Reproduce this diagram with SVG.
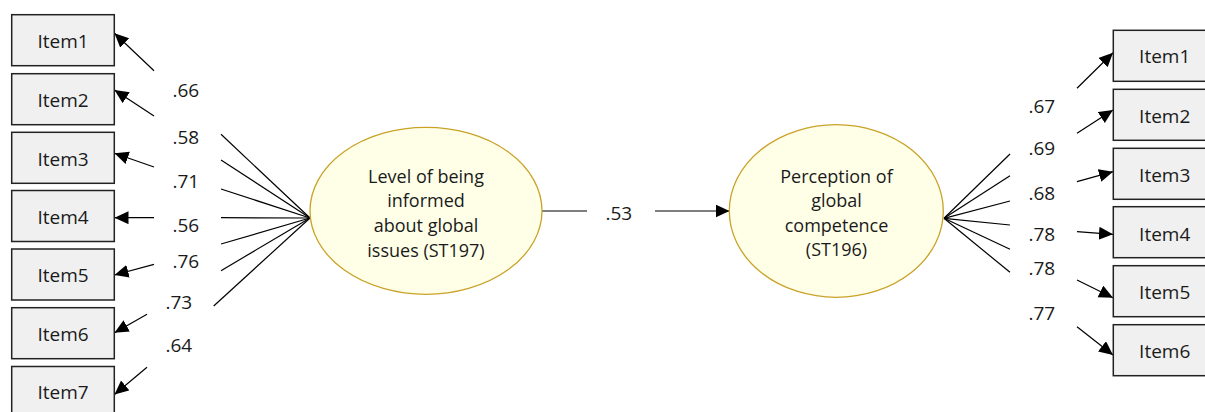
<svg xmlns="http://www.w3.org/2000/svg" width="1205" height="412" viewBox="0 0 1205 412">
<style>
  .box { fill: #F0F0F0; stroke: #222; stroke-width: 1.5; }
  .lat { fill: #FFFFE8; stroke: #C9A227; stroke-width: 1.3; }
  .t { font-family: "Open Sans", "Noto Sans", sans-serif; fill: #1a1a1a; }
  .it { font-size: 19px; text-anchor: middle; }
  .el { font-size: 18px; text-anchor: middle; }
  .lb { font-size: 19px; }
  .ln { stroke: #000; stroke-width: 1.2; fill: none; }
  .ar { stroke: #000; stroke-width: 1.2; fill: none; marker-end: url(#ah); }
</style>
<defs>
  <marker id="ah" markerUnits="userSpaceOnUse" markerWidth="16" markerHeight="14" refX="14" refY="6.5" orient="auto">
    <path d="M0,0 L14,6.5 L0,13 z" fill="#000"/>
  </marker>
</defs>
<rect width="1205" height="412" fill="#fff"/>

<g id="connectors">
  <!-- left fan -->
  <line class="ln" x1="310" y1="218" x2="221" y2="134.3"/>
  <line class="ln" x1="310" y1="218" x2="221" y2="160"/>
  <line class="ln" x1="310" y1="218" x2="221" y2="189"/>
  <line class="ln" x1="310" y1="218" x2="221" y2="217.7"/>
  <line class="ln" x1="310" y1="218" x2="221" y2="244"/>
  <line class="ln" x1="310" y1="218" x2="221" y2="270.7"/>
  <line class="ln" x1="310" y1="218" x2="213.7" y2="306"/>
  <!-- left arrows -->
  <line class="ar" x1="154" y1="70.7" x2="114.5" y2="33.3"/>
  <line class="ar" x1="154" y1="116" x2="114.5" y2="90"/>
  <line class="ar" x1="154" y1="167" x2="114.5" y2="153.3"/>
  <line class="ar" x1="154" y1="217.7" x2="114.5" y2="217.7"/>
  <line class="ar" x1="154" y1="264.3" x2="114.5" y2="275"/>
  <line class="ar" x1="147" y1="314.3" x2="114.5" y2="332.7"/>
  <line class="ar" x1="147" y1="367.3" x2="114.5" y2="394.5"/>
  <!-- structural -->
  <line class="ln" x1="542" y1="211" x2="587" y2="211"/>
  <line class="ar" x1="655" y1="211" x2="729.5" y2="211"/>
  <!-- right fan -->
  <line class="ln" x1="944" y1="218.3" x2="1010" y2="154"/>
  <line class="ln" x1="944" y1="218.3" x2="1010" y2="175.7"/>
  <line class="ln" x1="944" y1="218.3" x2="1010" y2="201"/>
  <line class="ln" x1="944" y1="218.3" x2="1010" y2="225"/>
  <line class="ln" x1="944" y1="218.3" x2="1010" y2="249.3"/>
  <line class="ln" x1="944" y1="218.3" x2="1010" y2="272.3"/>
  <!-- right arrows -->
  <line class="ar" x1="1077" y1="88.3" x2="1113" y2="52.7"/>
  <line class="ar" x1="1077" y1="133.3" x2="1113" y2="110"/>
  <line class="ar" x1="1077" y1="181.7" x2="1113" y2="171.7"/>
  <line class="ar" x1="1077" y1="231.7" x2="1113" y2="234.3"/>
  <line class="ar" x1="1077" y1="280" x2="1113" y2="297.7"/>
  <line class="ar" x1="1077" y1="326.7" x2="1113" y2="355"/>
  <!-- labels -->
  <g class="t lb">
    <text x="172.5" y="97">.66</text>
    <text x="172.5" y="144">.58</text>
    <text x="172.5" y="188.3">.71</text>
    <text x="172.5" y="231.7">.56</text>
    <text x="172.5" y="267.7">.76</text>
    <text x="165.5" y="309.3">.73</text>
    <text x="165.5" y="352.3">.64</text>
    <text x="605.5" y="220">.53</text>
    <text x="1028.5" y="113.3">.67</text>
    <text x="1028.5" y="155">.69</text>
    <text x="1028.5" y="200">.68</text>
    <text x="1028.5" y="240.7">.78</text>
    <text x="1028.5" y="275.3">.78</text>
    <text x="1028.5" y="320">.77</text>
  </g>
</g>

<g id="latent-ST197">
  <ellipse class="lat" cx="426" cy="210.8" rx="116" ry="83.5"/>
  <text class="t el" x="426" y="183.3">Level of being</text>
  <text class="t el" x="426" y="207.3">informed</text>
  <text class="t el" x="426" y="231.7">about global</text>
  <text class="t el" x="426" y="256.5">issues (ST197)</text>
</g>

<g id="latent-ST196">
  <ellipse class="lat" cx="836.3" cy="211" rx="107" ry="86.3"/>
  <text class="t el" x="836.5" y="182.7">Perception of</text>
  <text class="t el" x="836.5" y="206.7">global</text>
  <text class="t el" x="836.5" y="231.5">competence</text>
  <text class="t el" x="836.5" y="256">(ST196)</text>
</g>

<g id="L-Item1"><rect class="box" x="11.7" y="14.7" width="102.6" height="51"/><text class="t it" x="63" y="48.3">Item1</text></g>
<g id="L-Item2"><rect class="box" x="11.7" y="73.7" width="102.6" height="51"/><text class="t it" x="63" y="107.3">Item2</text></g>
<g id="L-Item3"><rect class="box" x="11.7" y="132.3" width="102.6" height="51"/><text class="t it" x="63" y="165.5">Item3</text></g>
<g id="L-Item4"><rect class="box" x="11.7" y="190.5" width="102.6" height="51"/><text class="t it" x="63" y="224">Item4</text></g>
<g id="L-Item5"><rect class="box" x="11.7" y="249" width="102.6" height="51"/><text class="t it" x="63" y="282.3">Item5</text></g>
<g id="L-Item6"><rect class="box" x="11.7" y="307.7" width="102.6" height="51"/><text class="t it" x="63" y="340.7">Item6</text></g>
<g id="L-Item7"><rect class="box" x="11.7" y="366.5" width="102.6" height="51"/><text class="t it" x="63" y="399.3">Item7</text></g>

<g id="R-Item1"><rect class="box" x="1113.3" y="30.3" width="103" height="51"/><text class="t it" x="1164.7" y="63.3">Item1</text></g>
<g id="R-Item2"><rect class="box" x="1113.3" y="89.3" width="103" height="51"/><text class="t it" x="1164.7" y="122.7">Item2</text></g>
<g id="R-Item3"><rect class="box" x="1113.3" y="148.3" width="103" height="51"/><text class="t it" x="1164.7" y="181.7">Item3</text></g>
<g id="R-Item4"><rect class="box" x="1113.3" y="206.7" width="103" height="51"/><text class="t it" x="1164.7" y="241">Item4</text></g>
<g id="R-Item5"><rect class="box" x="1113.3" y="265.7" width="103" height="51"/><text class="t it" x="1164.7" y="299">Item5</text></g>
<g id="R-Item6"><rect class="box" x="1113.3" y="324.7" width="103" height="51"/><text class="t it" x="1164.7" y="357.7">Item6</text></g>
</svg>
